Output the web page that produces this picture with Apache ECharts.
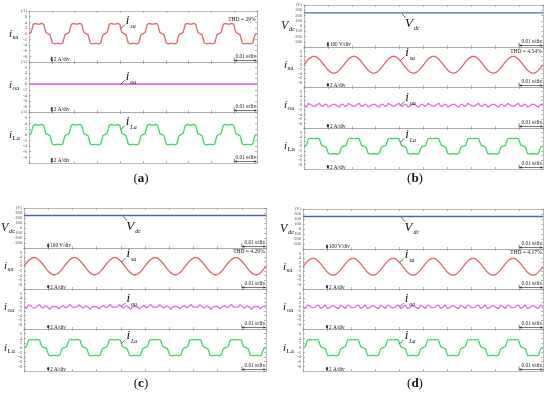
<!DOCTYPE html>
<html><head><meta charset="utf-8">
<script src="https://cdn.jsdelivr.net/npm/echarts@6/dist/echarts.min.js"></script>
<style>html,body{margin:0;padding:0;background:#fff}#c{width:550px;height:393px}</style>
</head><body><div id="c"></div>
<script>
// ---------------- data ----------------
// time axis: 0 .. 0.1 s, 0.01 s/div, 6 fundamental cycles (60 Hz)
const timeRange = [0, 0.1];
const cyclesShown = 6;
const fundamentalPeriod = 1 / 60;
const currentTicks = ['(A)', '6', '4', '2', '0', '-2', '-4', '-6', '-8'];   // 8 .. -8 A
const voltageTicks = ['(V)', '300', '200', '100', '0', '-100', '-200', '-300']; // 400 .. -300 V
// one fundamental cycle, sampled every 10 degrees (A)
const isaACycle = [0, 0.1, 0.4, 1.8, 3.3, 3.9, 3.6, 3.4, 3.4, 3.5, 3.4, 3.4, 3.6, 3.9, 3.3, 1.8, 0.4, 0.1,
                   0, -0.1, -0.4, -1.8, -3.3, -3.9, -3.6, -3.4, -3.4, -3.5, -3.4, -3.4, -3.6, -3.9, -3.3, -1.8, -0.4, -0.1];
const ioaA = [0, 0];
const iLaCycleA = [0, 0.1, 0.4, 1.8, 3.3, 3.9, 3.6, 3.4, 3.4, 3.5, 3.4, 3.4, 3.6, 3.9, 3.3, 1.8, 0.4, 0.1,
                   0, -0.1, -0.4, -1.8, -3.3, -3.9, -3.6, -3.4, -3.4, -3.5, -3.4, -3.4, -3.6, -3.9, -3.3, -1.8, -0.4, -0.1];
const vdcLevel = [250, 250];
const isaCycle = [0, 0.65, 1.3, 1.8, 2.45, 2.95, 3.25, 3.55, 3.75, 3.8, 3.75, 3.55, 3.3, 2.95, 2.4, 1.85, 1.3, 0.65,
                  0, -0.65, -1.3, -1.8, -2.45, -2.95, -3.25, -3.55, -3.75, -3.8, -3.75, -3.55, -3.3, -2.95, -2.4, -1.85, -1.3, -0.65];
const ioaCycleB = [0.1, -0.5, -0.9, -0.1, 0.8, 1.0, 0.3, -0.2, -0.4, -0.3, -0.4, -0.2, 0.3, 1.0, 0.9, -0.1, -0.9, -0.5,
                   -0.1, 0.5, 0.9, 0.1, -0.8, -1.0, -0.3, 0.2, 0.4, 0.3, 0.4, 0.2, -0.3, -1.0, -0.9, 0.1, 0.9, 0.5];
const ioaCycleC = [0.2, -0.4, -0.8, 0.0, 0.9, 1.1, 0.4, -0.1, -0.5, -0.2, -0.5, -0.1, 0.4, 0.9, 1.0, 0.0, -0.8, -0.6,
                   -0.2, 0.4, 0.8, 0.0, -0.9, -1.1, -0.4, 0.1, 0.5, 0.2, 0.5, 0.1, -0.4, -0.9, -1.0, 0.0, 0.8, 0.6];
const ioaCycleD = [0.1, -0.5, -0.8, -0.1, 0.8, 1.0, 0.4, -0.2, -0.4, -0.2, -0.4, -0.2, 0.4, 1.0, 0.8, -0.1, -0.8, -0.5,
                   -0.1, 0.5, 0.8, 0.1, -0.8, -1.0, -0.4, 0.2, 0.4, 0.2, 0.4, 0.2, -0.4, -1.0, -0.8, 0.1, 0.8, 0.5];
const iLaCycle = [0, 0.1, 0.4, 1.7, 3.2, 3.8, 3.5, 3.3, 3.3, 3.4, 3.3, 3.3, 3.5, 3.8, 3.2, 1.7, 0.4, 0.1,
                  0, -0.1, -0.4, -1.7, -3.2, -3.8, -3.5, -3.3, -3.3, -3.4, -3.3, -3.3, -3.5, -3.8, -3.2, -1.7, -0.4, -0.1];
const thdLabels = ['THD = 29%', 'THD = 4.54%', 'THD = 4.29%', 'THD = 4.17%'];
const panelLetters = ['a', 'b', 'c', 'd'];
const divLabels = { current: '2 A/div', voltage: '100 V/div', time: '0.01 s/div' };

// ---------------- helpers ----------------
function tile(cycle, n) {
  const out = [];
  const step = fundamentalPeriod / cycle.length;
  for (let c = 0; c < n; c++) for (let k = 0; k < cycle.length; k++) out.push([(c * cycle.length + k) * step, cycle[k]]);
  out.push([n * fundamentalPeriod, cycle[0]]);
  return out;
}
function flat(vals) { return [[timeRange[0], vals[0]], [timeRange[1], vals[1]]]; }

const panelData = [
  { isa: tile(isaACycle, cyclesShown), ioa: flat(ioaA), iLa: tile(iLaCycleA, cyclesShown) },
  { vdc: flat(vdcLevel), isa: tile(isaCycle, cyclesShown), ioa: tile(ioaCycleB, cyclesShown), iLa: tile(iLaCycle, cyclesShown) },
  { vdc: flat(vdcLevel), isa: tile(isaCycle, cyclesShown), ioa: tile(ioaCycleC, cyclesShown), iLa: tile(iLaCycle, cyclesShown) },
  { vdc: flat(vdcLevel), isa: tile(isaCycle, cyclesShown), ioa: tile(ioaCycleD, cyclesShown), iLa: tile(iLaCycle, cyclesShown) }
];

// ---------------- layout ----------------
const layout = [
  { left: 29, width: 228, tops: [11, 62, 112, 163], kinds: ['isa', 'ioa', 'iLa'], thdOff: 9, label: [141, 179] },
  { left: 304, width: 239, tops: [5, 47, 87, 128, 169], kinds: ['vdc', 'isa', 'ioa', 'iLa'], thdOff: 5, label: [415, 179] },
  { left: 24, width: 242, tops: [208, 248, 289, 329, 371], kinds: ['vdc', 'isa', 'ioa', 'iLa'], thdOff: 4, label: [141, 384] },
  { left: 303, width: 240, tops: [209, 249, 289, 329, 371], kinds: ['vdc', 'isa', 'ioa', 'iLa'], thdOff: 4, label: [415, 384] }
];
const colors = { vdc: '#4f5fc8', isa: '#e46464', ioa: '#e06ee0', iLa: '#3cd862' };
const names = { vdc: ['V', 'dc'], isa: ['i', 'sa'], ioa: ['i', 'oa'], iLa: ['i', 'La'] };
const serif = 'Liberation Serif';

const option = { animation: false, grid: [], xAxis: [], yAxis: [], series: [] };
const meta = [];
layout.forEach((p, pi) => {
  p.kinds.forEach((kind, ri) => {
    const top = p.tops[ri], h = p.tops[ri + 1] - top;
    const gi = option.grid.length;
    option.grid.push({ left: p.left, top: top, width: p.width, height: h });
    const isV = kind === 'vdc';
    const ymin = isV ? -400 : -10, ymax = isV ? 400 : 8, yint = isV ? 100 : 2;
    const axisLine = { show: true, onZero: false, lineStyle: { color: '#a8a8a8', width: 0.8 } };
    const tick = { show: true, inside: true, length: 2, lineStyle: { color: '#888', width: 0.6 } };
    ['bottom', 'top'].forEach(pos => option.xAxis.push({
      gridIndex: gi, type: 'value', min: timeRange[0], max: timeRange[1], interval: 0.01, position: pos,
      axisLine, axisTick: tick, axisLabel: { show: false }, splitLine: { show: false }
    }));
    const ticks = isV ? voltageTicks : currentTicks;
    option.yAxis.push({
      gridIndex: gi, type: 'value', min: ymin, max: ymax, interval: yint, position: 'left',
      axisLine, axisTick: tick, splitLine: { show: false },
      axisLabel: { show: true, fontSize: 4.5, margin: 2, color: '#555', fontFamily: serif,
        formatter: v => { const t = ticks[Math.round((ymax - v) / yint)]; return t === undefined ? '' : t; } }
    });
    option.yAxis.push({
      gridIndex: gi, type: 'value', min: ymin, max: ymax, interval: yint, position: 'right',
      axisLine, axisTick: tick, axisLabel: { show: false }, splitLine: { show: false }
    });
    const flatTrace = panelData[pi][kind].length === 2;
    option.series.push({
      type: 'line', xAxisIndex: option.xAxis.length - 2, yAxisIndex: option.yAxis.length - 2,
      data: panelData[pi][kind], showSymbol: false, symbol: 'none', silent: true, z: 5,
      lineStyle: { color: colors[kind], width: isV ? 1.3 : (flatTrace ? 1.8 : 1.3) }
    });
    meta.push({ gi, pi, kind, top, h, left: p.left, width: p.width, ymin, ymax, yint, thdOff: p.thdOff });
  });
});

const chart = echarts.init(document.getElementById('c'));
chart.setOption(option);

// ---------------- annotations ----------------
const G = [];
function text(x, y, s, size, o) {
  G.push({ type: 'text', silent: true, z: 100, style: Object.assign({
    text: s, x, y, fontSize: size, fontFamily: serif, fill: '#111',
    textAlign: 'left', textVerticalAlign: 'bottom', align: 'left', verticalAlign: 'bottom'
  }, o || {}) });
}
function line(x1, y1, x2, y2, w) {
  G.push({ type: 'line', silent: true, z: 100, shape: { x1, y1, x2, y2 }, style: { stroke: '#222', lineWidth: w || 0.7 } });
}
function head(x, y, dir) {
  const s = 1.3, l = 2.2;
  let pts;
  if (dir === 'up') pts = [[x, y], [x - s, y + l], [x + s, y + l]];
  else if (dir === 'down') pts = [[x, y], [x - s, y - l], [x + s, y - l]];
  else if (dir === 'left') pts = [[x, y], [x + l, y - s], [x + l, y + s]];
  else pts = [[x, y], [x - l, y - s], [x - l, y + s]];
  G.push({ type: 'polygon', silent: true, z: 100, shape: { points: pts }, style: { fill: '#222' } });
}
const px = (gi, t, v) => chart.convertToPixel({ gridIndex: gi }, [t, v]);

meta.forEach(m => {
  const isV = m.kind === 'vdc';
  const cy = m.top + m.h / 2;
  const nm = names[m.kind];
  // left axis name
  if (isV) {
    text(m.left - 23, cy + 5.5, nm[0], 12, { fontStyle: 'italic' });
    text(m.left - 15, cy + 6.5, nm[1], 6.5, { fontStyle: 'italic' });
  } else {
    text(m.left - 20, cy + 3.5, nm[0], 11, { fontStyle: 'italic' });
    text(m.left - 16.5, cy + 4.5, nm[1], 7);
  }
  // THD
  if (m.kind === 'isa') {
    text(m.left + m.width - 1.5, m.top + m.thdOff + 3, thdLabels[m.pi], 5.5, { textAlign: 'right', align: 'right' });
  }
  // amplitude scale marker (one division)
  const b0 = px(m.gi, 0.01, m.ymin), b1 = px(m.gi, 0.01, m.ymin + m.yint);
  line(b0[0], b0[1] - 0.5, b1[0], b1[1] + 0.5, 0.6);
  head(b0[0], b0[1] - 0.3, 'down');
  head(b1[0], b1[1] + 0.3, 'up');
  text(b0[0] + 2, (b0[1] + b1[1]) / 2 + 3, isV ? divLabels.voltage : divLabels.current, 5.2);
  // time scale marker (one division)
  const s0 = px(m.gi, 0.09, m.ymin), s1 = px(m.gi, 0.1, m.ymin);
  const sy = s0[1] - 1.5;
  line(s0[0], sy, s1[0] - 0.5, sy, 0.6);
  line(s0[0], sy, s0[0], sy - 3, 0.6);
  head(s1[0] - 0.3, sy, 'right');
  head(s0[0] + 0.3, sy, 'left');
  text(s1[0] - 1, sy - 1, divLabels.time, 5.2, { textAlign: 'right', align: 'right' });
  // trace label with leader
  if (isV) {
    const a = px(m.gi, 0.041, vdcLevel[0]);
    line(a[0], a[1] + 0.8, a[0] + 3.5, a[1] + 5);
    text(a[0] + 3, a[1] + 17.5, nm[0], 13, { fontStyle: 'italic' });
    text(a[0] + 12, a[1] + 19, nm[1], 6, { fontStyle: 'italic' });
  } else {
    const d = panelData[m.pi][m.kind];
    const pt = d.length > 2 ? d[87] : [d[0][0] + (d[1][0] - d[0][0]) * 0.4028, d[0][1]];
    const a = px(m.gi, pt[0], pt[1]);
    line(a[0], a[1], a[0] + 4, a[1] - 4);
    text(a[0] + 5, a[1] - 1.5, nm[0], 13, { fontStyle: 'italic' });
    text(a[0] + 9.5, a[1] + 0.8, nm[1], 6, { fontStyle: 'italic' });
  }
});
// sub-figure labels
layout.forEach((p, pi) => {
  G.push({ type: 'text', silent: true, z: 100, style: {
    text: '{n|(}{b|' + panelLetters[pi] + '}{n|)}', x: p.label[0], y: p.label[1],
    textAlign: 'center', textVerticalAlign: 'middle', align: 'center', verticalAlign: 'middle',
    rich: { n: { fontSize: 13, fontFamily: serif, fill: '#111' },
            b: { fontSize: 13, fontFamily: serif, fontWeight: 'bold', fill: '#111' } }
  } });
});
chart.setOption({ graphic: G });
</script></body></html>
